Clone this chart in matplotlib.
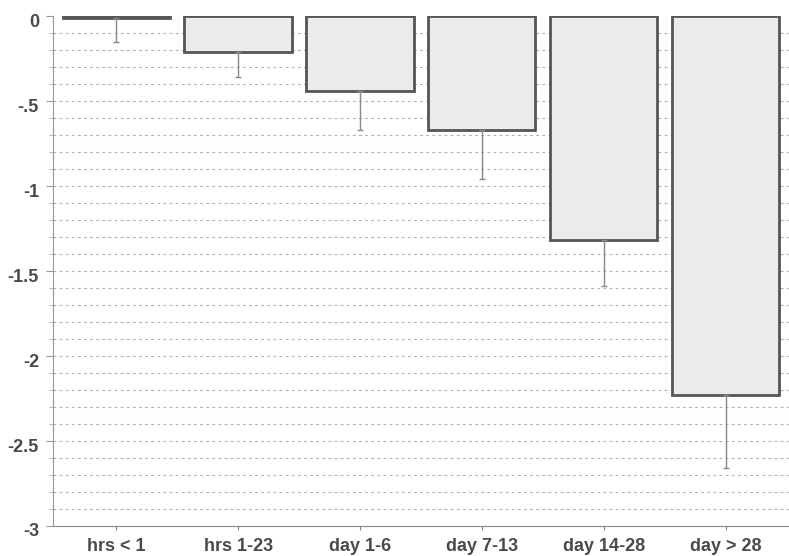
import matplotlib
matplotlib.use("Agg")
import matplotlib.pyplot as plt
import matplotlib.transforms as mtransforms
import numpy as np

categories = ["hrs < 1", "hrs 1-23", "day 1-6", "day 7-13", "day 14-28", "day > 28"]
values = [-0.01, -0.21, -0.44, -0.67, -1.32, -2.23]
lower_ci = [-0.15, -0.36, -0.67, -0.96, -1.59, -2.66]
ytick_vals = [0, -0.5, -1, -1.5, -2, -2.5, -3]
ytick_labels = ["0", "-.5", "-1", "-1.5", "-2", "-2.5", "-3"]

plt.rcParams['font.family'] = ['Liberation Sans', 'DejaVu Sans']

fig = plt.figure(figsize=(7.89, 5.56), dpi=100)
ax = fig.add_axes([0.067, 0.054, 0.933, 0.917])

x = np.arange(len(categories))
# grid lines every 0.1
for g in np.arange(-2.9, 0.0, 0.1):
    ax.axhline(g, color="#b0b0b0", lw=0.8, ls=(0, (2.5, 3)), zorder=0)

ax.bar(x, values, width=0.88, color="#ebebeb", edgecolor="#555555", linewidth=2, zorder=2)
err_low = [v - l for v, l in zip(values, lower_ci)]
ax.errorbar(x, values, yerr=[err_low, [0]*len(values)], fmt="none", ecolor="#888888",
            elinewidth=1, capsize=2, capthick=1, zorder=3)

ax.set_xlim(-0.52, 5.52)
ax.set_ylim(-3, 0)
ax.set_yticks(ytick_vals)
ax.set_yticklabels(ytick_labels)
ax.set_yticks(np.arange(-3, 0.01, 0.1), minor=True)
ax.set_xticks(x)
ax.set_xticklabels(categories)

for lab in ax.get_xticklabels() + ax.get_yticklabels():
    lab.set_fontsize(13)
    lab.set_fontweight("bold")
    lab.set_color("#4a4a4a")

ax.spines["top"].set_visible(False)
ax.spines["right"].set_visible(False)
ax.spines["left"].set_color("#999999")
ax.spines["bottom"].set_color("#888888")
ax.tick_params(axis="y", which="major", length=5, color="#999999", pad=5)
ax.tick_params(axis="y", which="minor", length=3, color="#aaaaaa")
ax.tick_params(axis="x", length=3, color="#888888", pad=6)

fig.canvas.draw()
offset = mtransforms.ScaledTranslation(0, -4/100, fig.dpi_scale_trans)
for t in ax.yaxis.get_major_ticks():
    t.label1.set_transform(t.label1.get_transform() + offset)

fig.savefig("out.png", dpi=100)
